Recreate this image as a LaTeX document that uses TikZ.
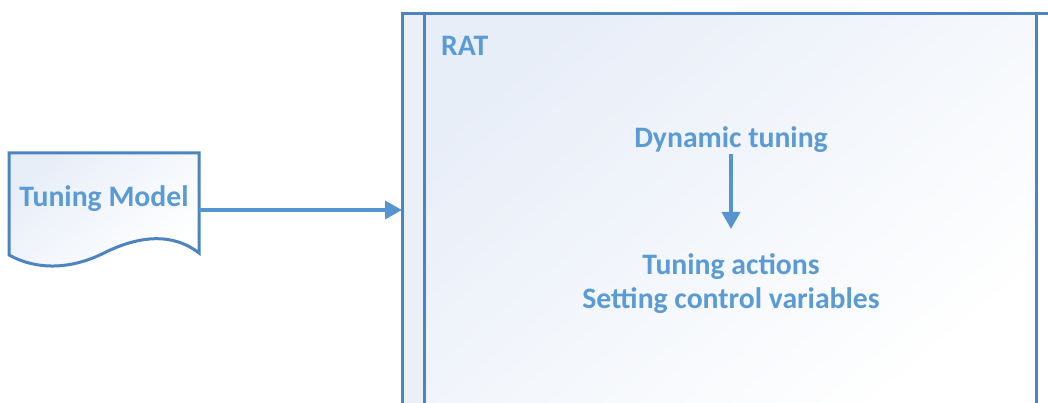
\documentclass[tikz,border=0pt]{standalone}
\usepackage{fontspec}
\setmainfont{Carlito}
\usetikzlibrary{arrows.meta}
\definecolor{lineblue}{RGB}{76,132,194}
\definecolor{arrowblue}{RGB}{86,148,208}
\definecolor{textblue}{RGB}{91,155,213}
\definecolor{paleblue}{RGB}{232,238,248}
\definecolor{stripblue}{RGB}{234,239,248}
\tikzset{
  outline/.style={draw=lineblue, line width=3pt},
  flowarrow/.style={draw=arrowblue, line width=3.4pt,
    -{Triangle[length=17pt,width=18pt]}},
  label/.style={text=textblue, font=\bfseries\fontsize{29.7}{34}\selectfont,
    inner sep=0pt, align=center},
}
\begin{document}
\begin{tikzpicture}[x=1pt,y=-1pt]
  \fill[white] (0,0) rectangle (1048,403);
  \useasboundingbox (0,0) rectangle (1048,403);
  \begin{scope}
    \clip (0,0) rectangle (1048,403);
    % RAT pool: header strip and lane body
    \fill[stripblue] (402,14) rectangle (424,410);
    \shade[top color=paleblue, bottom color=white, shading angle=40]
      (424,14) rectangle (1036,410);
    \fill[white] (1036,14) rectangle (1050,410);
    \draw[outline] (402,410) -- (402,14) -- (1052,14);
    \draw[outline] (424,14) -- (424,410);
    \draw[outline] (1036,14) -- (1036,410);
  \end{scope}
  \node[label, anchor=west] (rat) at (441,46) {RAT};

  % Tuning Model document shape
  \shade[outline, top color=paleblue, bottom color=white, shading angle=40]
    (9,153) -- (199,153) -- (199,253)
    .. controls (172,232) and (138,236) .. (104,253)
    .. controls (70,270) and (36,270) .. (9,255) -- cycle;
  \node[label] (tm) at (104,199) {Tuning Model};
  \coordinate (tmR) at (199,210);
  \coordinate (ratL) at (402,210);
  \draw[flowarrow] (tmR) -- (ratL);

  % Tuning loop inside RAT
  \node[label] (dt) at (731,140) {Dynamic tuning};
  \node[label] (ta) at (731,284) {Tuning actions\\Setting control variables};
  \coordinate (dtS) at (731,154);
  \coordinate (taN) at (731,229);
  \draw[flowarrow] (dtS) -- (taN);
\end{tikzpicture}
\end{document}
